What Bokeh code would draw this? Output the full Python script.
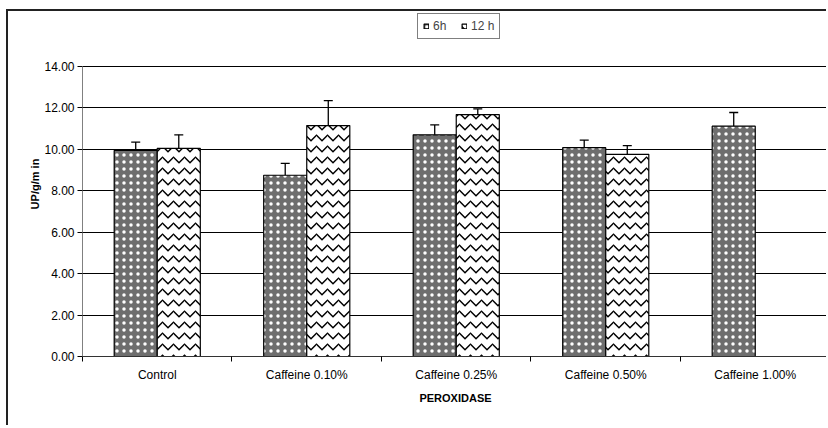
import math
from bokeh.plotting import figure
from bokeh.models import (ColumnDataSource, Range1d, FixedTicker, NumeralTickFormatter,
                          Whisker, TeeHead, Legend, LegendItem)
from bokeh.embed import file_html
from bokeh.resources import INLINE

categories = ["Control", "Caffeine 0.10%", "Caffeine 0.25%", "Caffeine 0.50%", "Caffeine 1.00%"]
series_6h = [9.95, 8.75, 10.70, 10.08, 11.12]
err_6h = [0.40, 0.57, 0.48, 0.37, 0.66]
series_12h = [10.05, 11.15, 11.68, 9.76, float("nan")]
err_12h = [0.65, 1.20, 0.27, 0.42, float("nan")]
y_ticks = [0, 2, 4, 6, 8, 10, 12, 14]
legend_labels = ["6h", "12 h"]

FONT = "Liberation Sans"
bar_w = 0.288
centers = [i + 0.5 for i in range(len(categories))]


def make_src(vals, errs, offset):
    xs, tops, ups, lows = [], [], [], []
    for c, v, e in zip(centers, vals, errs):
        if math.isnan(v):
            continue
        xs.append(c + offset)
        tops.append(v)
        ups.append(v + e)
        lows.append(v - e)
    return ColumnDataSource(dict(x=xs, top=tops, upper=ups, lower=lows))


src6 = make_src(series_6h, err_6h, -bar_w / 2)
src12 = make_src(series_12h, err_12h, bar_w / 2)

# frame spans the full height above the axis; the y axis itself is bounded to 0..14
p = figure(width=820, height=416, x_range=Range1d(0, 4.99), y_range=Range1d(0, 16.655),
           output_backend="svg", toolbar_location=None,
           min_border_left=74, min_border_top=0, min_border_bottom=71, min_border_right=0)
p.styles = {"margin-left": "6px", "margin-top": "9px",
            "border-top": "2px solid #222", "border-left": "2px solid #222"}
p.outline_line_color = None
p.background_fill_color = "white"
p.border_fill_color = "white"

r6 = p.vbar(x="x", top="top", width=bar_w, source=src6, fill_color="#6e6e6e",
            line_color="black", line_width=1.2,
            hatch_pattern="dot", hatch_color="white", hatch_scale=7, hatch_weight=2)
r12 = p.vbar(x="x", top="top", width=bar_w, source=src12, fill_color="white",
             line_color="black", line_width=1.2,
             hatch_pattern="horizontal_wave", hatch_color="black", hatch_scale=11, hatch_weight=1.5)

for src in (src6, src12):
    w = Whisker(base="x", upper="upper", lower="lower", source=src,
                line_color="black", line_width=1.3,
                upper_head=TeeHead(size=9, line_color="black", line_width=1.3),
                lower_head=TeeHead(size=9, line_color="black", line_width=1.3))
    p.add_layout(w)

# axes
xa = p.xaxis[0]
xa.ticker = FixedTicker(ticks=centers, minor_ticks=[0, 1, 2, 3, 4, 5])
xa.major_label_overrides = {c: lab for c, lab in zip(centers, categories)}
xa.major_tick_line_color = None
xa.major_tick_out = 5
xa.minor_tick_out = 5
xa.minor_tick_in = 0
xa.minor_tick_line_color = "black"
xa.axis_line_color = "#333333"
xa.axis_label = "PEROXIDASE"
xa.major_label_standoff = 6
xa.axis_label_standoff = 7

ya = p.yaxis[0]
ya.ticker = FixedTicker(ticks=y_ticks)
ya.bounds = (0, 14)
ya.formatter = NumeralTickFormatter(format="0.00")
ya.major_tick_out = 5
ya.major_tick_in = 0
ya.major_tick_line_color = "black"
ya.minor_tick_line_color = None
ya.axis_line_color = "#808080"
ya.axis_label = "UP/g/m in"
ya.major_label_standoff = 3
ya.axis_label_standoff = 0

for ax in (xa, ya):
    ax.major_label_text_font = FONT
    ax.major_label_text_font_size = "12px"
    ax.major_label_text_color = "black"
    ax.axis_label_text_font = FONT
    ax.axis_label_text_font_size = "11px"
    ax.axis_label_text_font_style = "bold"
    ax.axis_label_text_color = "black"

p.xgrid.grid_line_color = None
p.ygrid.ticker = FixedTicker(ticks=y_ticks[1:])
p.ygrid.grid_line_color = "black"
p.ygrid.grid_line_width = 1

legend = Legend(items=[LegendItem(label=legend_labels[0], renderers=[r6]),
                       LegendItem(label=legend_labels[1], renderers=[r12])],
                orientation="horizontal", location=(335, 317),
                border_line_color="black", border_line_width=1,
                background_fill_color="white",
                label_text_font=FONT, label_text_font_size="12px",
                glyph_width=6, glyph_height=6, label_standoff=4, spacing=8,
                padding=5, margin=0, label_height=14)
p.add_layout(legend, "center")

html = file_html(p, INLINE)
open("out.html", "w").write(html)
